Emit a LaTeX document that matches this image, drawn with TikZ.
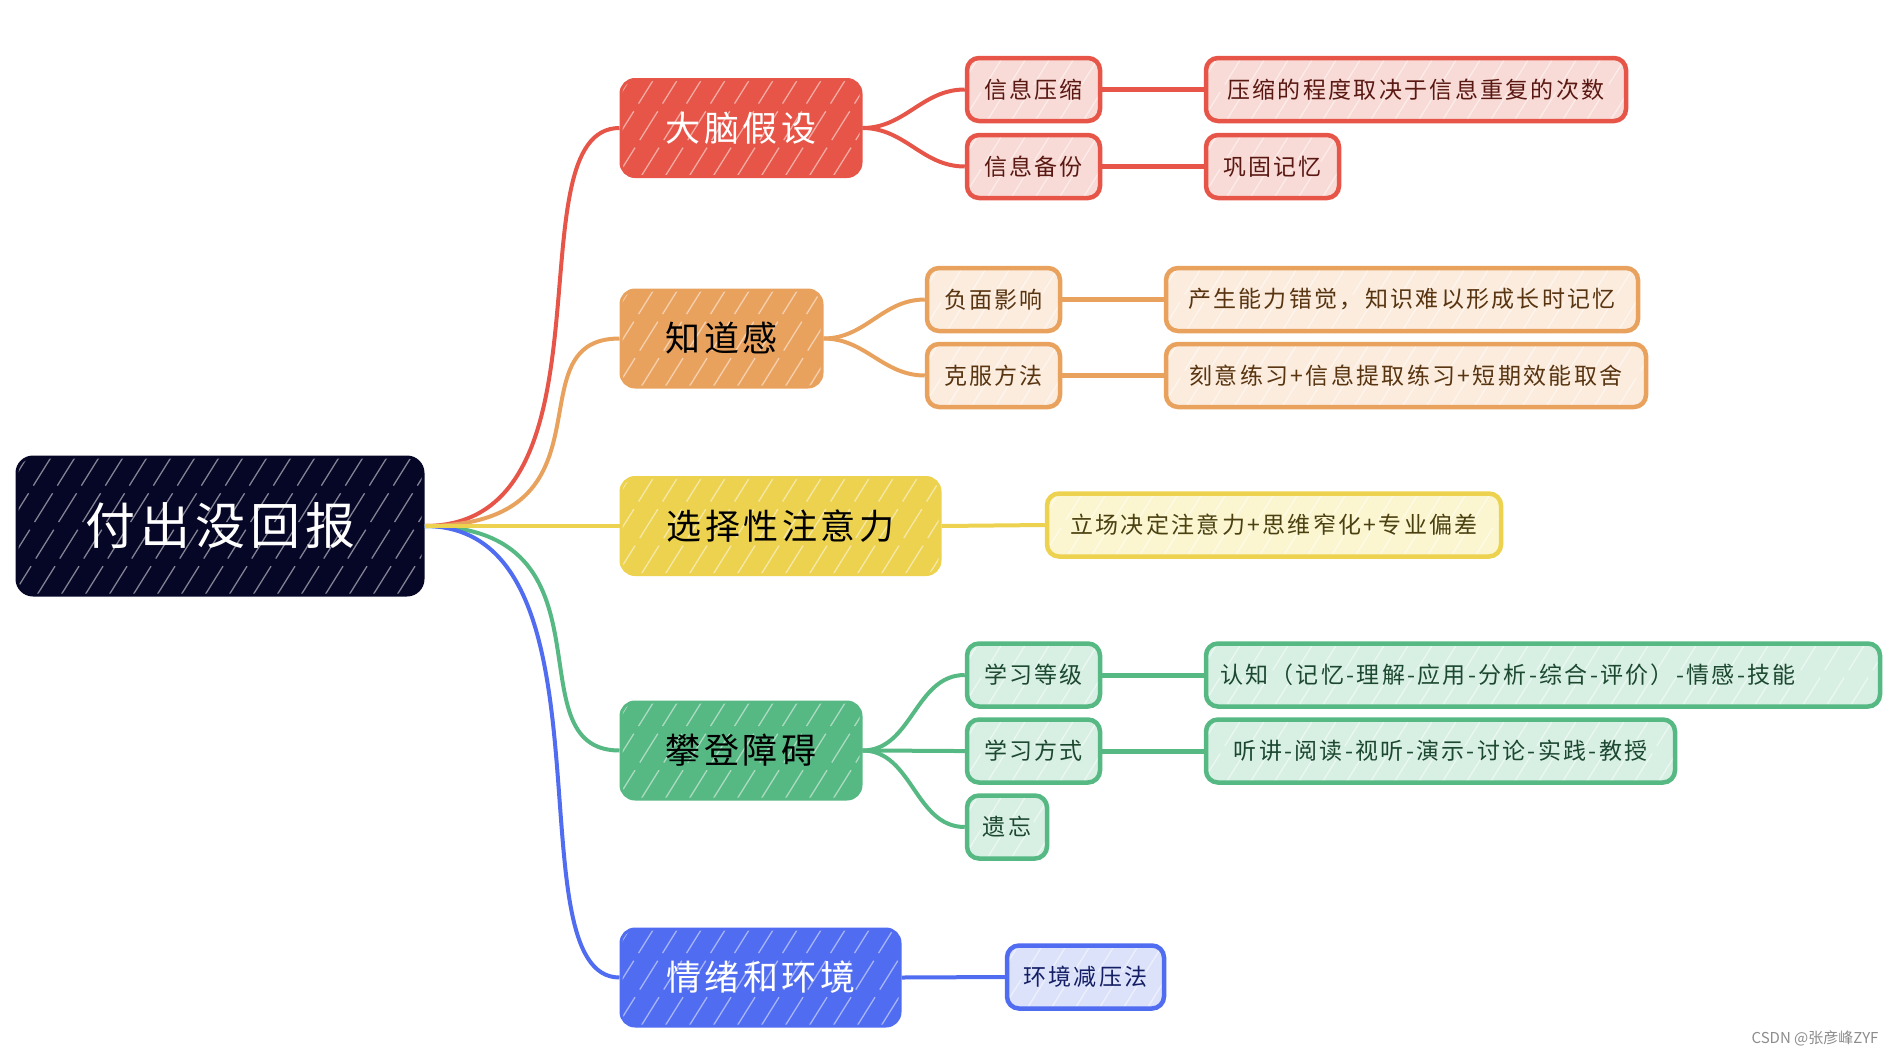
\documentclass[tikz,border=0pt]{standalone}
\usepackage{fontspec}
\setmainfont{Noto Sans CJK SC}
\newfontfamily\cjk[LetterSpace=10]{Noto Sans CJK SC}
\usetikzlibrary{positioning}
\definecolor{Navy}{RGB}{6,6,38}
\definecolor{Brain}{RGB}{230,85,72}
\definecolor{BrainSoft}{RGB}{248,218,214}
\definecolor{BrainInk}{RGB}{90,24,18}
\definecolor{Know}{RGB}{233,162,94}
\definecolor{KnowSoft}{RGB}{251,236,222}
\definecolor{KnowInk}{RGB}{88,52,16}
\definecolor{Attn}{RGB}{236,210,78}
\definecolor{AttnSoft}{RGB}{251,246,208}
\definecolor{AttnInk}{RGB}{74,64,16}
\definecolor{Climb}{RGB}{86,184,131}
\definecolor{ClimbSoft}{RGB}{216,240,228}
\definecolor{ClimbInk}{RGB}{28,72,48}
\definecolor{Mood}{RGB}{80,108,240}
\definecolor{MoodSoft}{RGB}{220,226,250}
\definecolor{MoodInk}{RGB}{20,30,100}
\tikzset{
  hatch/.style={path picture={
      \foreach \k in {0,24,...,960}
        \draw[white,opacity=0.5,line width=1.3pt,dash pattern=on 34pt off 9pt]
          ([xshift=\k pt-220pt]path picture bounding box.south west) -- ++(58:420pt);}},
  rootbox/.style={draw=Navy,fill=Navy,line width=3pt,rounded corners=16pt,
    minimum width=406pt,minimum height=138pt,inner sep=0pt,hatch,text=white,
    font=\cjk\fontsize{50}{56}\selectfont},
  topic/.style={draw=#1,fill=#1,line width=3pt,rounded corners=14pt,text=black,
    minimum height=97pt,inner sep=0pt,hatch,font=\cjk\fontsize{35}{40}\selectfont},
  subbox/.style={draw=#1,fill=#1Soft,line width=4.5pt,rounded corners=12pt,
    text=#1Ink,minimum height=63pt,inner sep=0pt,hatch,
    font=\cjk\fontsize{23}{26}\selectfont},
  branch/.style={draw=#1,line width=4pt},
  twig/.style={draw=#1,line width=5pt}
}
\begin{document}
\begin{tikzpicture}[x=1pt,y=-1pt]
  \useasboundingbox (0,0) rectangle (1895,1058);

  \node[rootbox] (root) at (220,526) {付出没回报};

  % first level
  \node[topic=Brain,text=white,minimum width=240pt] (brain) at (741,128) {大脑假设};
  \node[topic=Know,minimum width=201pt] (know) at (721.5,338.5) {知道感};
  \node[topic=Attn,minimum width=319pt] (attn) at (780.5,526) {选择性注意力};
  \node[topic=Climb,minimum width=240pt] (climb) at (741,750.5) {攀登障碍};
  \node[topic=Mood,text=white,minimum width=279pt] (mood) at (760.5,977.5) {情绪和环境};

  % second level
  \node[subbox=Brain,minimum width=133pt] (compress) at (1033.5,89.5) {信息压缩};
  \node[subbox=Brain,minimum width=133pt] (backup) at (1033.5,166.5) {信息备份};
  \node[subbox=Know,minimum width=133pt] (harm) at (993.5,299.5) {负面影响};
  \node[subbox=Know,minimum width=133pt] (remedy) at (993.5,375.5) {克服方法};
  \node[subbox=Attn,minimum width=454pt] (stance) at (1274,525) {立场决定注意力+思维窄化+专业偏差};
  \node[subbox=Climb,minimum width=133pt] (levels) at (1033.5,675) {学习等级};
  \node[subbox=Climb,minimum width=133pt] (modes) at (1033.5,751) {学习方式};
  \node[subbox=Climb,minimum width=80pt] (forget) at (1007,827) {遗忘};
  \node[subbox=Mood,minimum width=157pt] (relief) at (1085.5,977) {环境减压法};

  % third level
  \node[subbox=Brain,minimum width=420pt] (compressnote) at (1416,89.5) {压缩的程度取决于信息重复的次数};
  \node[subbox=Brain,minimum width=133pt] (backupnote) at (1272.5,166.5) {巩固记忆};
  \node[subbox=Know,minimum width=472pt] (harmnote) at (1402,299.5) {产生能力错觉，知识难以形成长时记忆};
  \node[subbox=Know,minimum width=480pt] (remedynote) at (1406,375.5) {刻意练习+信息提取练习+短期效能取舍};
  \node[subbox=Climb,minimum width=674pt,text width=646pt,align=left] (levelsnote) at (1543,675) {认知（记忆-理解-应用-分析-综合-评价）-情感-技能};
  \node[subbox=Climb,minimum width=469pt] (modesnote) at (1440.5,751) {听讲-阅读-视听-演示-讨论-实践-教授};

  \node[anchor=east,text=black!45,font=\fontsize{15}{17}\selectfont] (mark) at (1882,1038) {CSDN @张彦峰ZYF};

  % connectors
  \foreach \t/\c in {brain/Brain,know/Know,climb/Climb,mood/Mood}
    \draw[branch=\c] (root.east) .. controls +(200,0) and +(-110,0) .. (\t.west);
  \draw[branch=Attn] (root.east) -- (attn.west);

  \draw[branch=Brain] (brain.east) to[out=0,in=180] (compress.west);
  \draw[branch=Brain] (brain.east) to[out=0,in=180] (backup.west);
  \draw[branch=Know] (know.east) to[out=0,in=180] (harm.west);
  \draw[branch=Know] (know.east) to[out=0,in=180] (remedy.west);
  \draw[branch=Attn] (attn.east) -- (stance.west);
  \draw[branch=Climb] (climb.east) to[out=0,in=180] (levels.west);
  \draw[branch=Climb] (climb.east) to[out=0,in=180] (modes.west);
  \draw[branch=Climb] (climb.east) to[out=0,in=180] (forget.west);
  \draw[branch=Mood] (mood.east) -- (relief.west);

  \draw[twig=Brain] (compress) -- (compressnote);
  \draw[twig=Brain] (backup) -- (backupnote);
  \draw[twig=Know] (harm) -- (harmnote);
  \draw[twig=Know] (remedy) -- (remedynote);
  \draw[twig=Climb] (levels) -- (levelsnote);
  \draw[twig=Climb] (modes) -- (modesnote);
\end{tikzpicture}
\end{document}
